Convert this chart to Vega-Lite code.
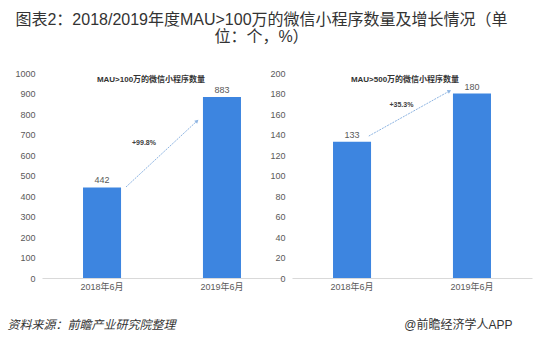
{
  "$schema": "https://vega.github.io/schema/vega-lite/v6.json",
  "background": "white",
  "padding": {"left": 7, "right": 7, "top": 12, "bottom": 5},
  "title": {
    "text": ["图表2：2018/2019年度MAU>100万的微信小程序数量及增长情况（单", "位：个，%）"],
    "fontSize": 16,
    "fontWeight": "normal",
    "color": "#333333",
    "lineHeight": 17,
    "anchor": "middle",
    "dx": -8,
    "offset": 24
  },
  "datasets": {
    "bars1": [{"period": "2018年6月", "value": 442}, {"period": "2019年6月", "value": 883}],
    "arrow1": [{"x": 0.35, "y": 444, "x2": 0.646, "y2": 766, "label": "+99.8%", "lx": 0.425, "ly": 659}],
    "bars2": [{"period": "2018年6月", "value": 133}, {"period": "2019年6月", "value": 180}],
    "arrow2": [{"x": 0.32, "y": 138.5, "x2": 0.656, "y2": 182.4, "label": "+35.3%", "lx": 0.456, "ly": 168.8}]
  },
  "config": {
    "font": "Liberation Sans, Noto Sans CJK SC, sans-serif",
    "view": {"stroke": null},
    "axis": {"labelFontSize": 9, "labelColor": "#595959", "domain": false, "ticks": false, "grid": false, "labelPadding": 7, "labelOverlap": false, "labelFlush": false},
    "axisY": {"tickCount": 10, "format": "d", "labelOverlap": false},
    "axisX": {"domain": true, "domainColor": "#d9d9d9", "labelPadding": 4, "labelAngle": 0}
  },
  "bounds": "flush",
  "spacing": 10,
  "hconcat": [
    {
      "width": 240,
      "height": 205,
      "title": {"text": "MAU>100万的微信小程序数量", "fontSize": 8, "fontWeight": "bold", "color": "#333333", "offset": -19, "baseline": "middle", "dx": -11},
      "layer": [
        {
          "data": {"name": "bars1"},
          "encoding": {
            "x": {"field": "period", "type": "nominal", "sort": null,
              "scale": {"paddingInner": 0.683, "paddingOuter": 0.342},
              "axis": {"title": "资料来源：前瞻产业研究院整理", "titleFontSize": 12, "titleFontStyle": "italic", "titleFontWeight": "normal", "titleColor": "#333333", "titleAnchor": "start", "titleAlign": "left", "titleX": -35, "titleY": 46, "titleBaseline": "middle"}},
            "y": {"field": "value", "type": "quantitative", "scale": {"domain": [0, 1000]},
              "axis": {"title": null, "format": "d", "tickCount": 10, "labelOverlap": false}}
          },
          "layer": [
            {"mark": {"type": "bar", "color": "#3d85e0"}},
            {"mark": {"type": "text", "baseline": "bottom", "dy": -2, "fontSize": 9, "color": "#595959"}, "encoding": {"text": {"field": "value"}}}
          ]
        },
        {
          "data": {"name": "arrow1"},
          "layer": [
            {"mark": {"type": "rule", "color": "#8db4e2", "strokeWidth": 1, "strokeDash": [2, 1]},
              "encoding": {"x": {"field": "x", "type": "quantitative", "scale": {"domain": [0, 1]}, "axis": null}, "x2": {"field": "x2"}, "y": {"field": "y", "type": "quantitative", "axis": {"title": null, "format": "d", "tickCount": 10, "labelOverlap": false}}, "y2": {"field": "y2"}}},
            {"mark": {"type": "point", "shape": "triangle-up", "filled": true, "angle": 47, "size": 18, "color": "#8db4e2", "opacity": 1},
              "encoding": {"x": {"field": "x2", "type": "quantitative", "scale": {"domain": [0, 1]}, "axis": null}, "y": {"field": "y2", "type": "quantitative", "axis": {"title": null, "format": "d", "tickCount": 10, "labelOverlap": false}}}},
            {"mark": {"type": "text", "fontSize": 7, "fontWeight": "bold", "color": "#404040"},
              "encoding": {"x": {"field": "lx", "type": "quantitative", "scale": {"domain": [0, 1]}, "axis": null}, "y": {"field": "ly", "type": "quantitative", "axis": {"title": null, "format": "d", "tickCount": 10, "labelOverlap": false}}, "text": {"field": "label"}}}
          ]
        }
      ],
      "resolve": {"scale": {"x": "independent"}}
    },
    {
      "width": 240,
      "height": 205,
      "title": {"text": "MAU>500万的微信小程序数量", "fontSize": 8, "fontWeight": "bold", "color": "#333333", "offset": -19, "baseline": "middle", "dx": -7},
      "layer": [
        {
          "data": {"name": "bars2"},
          "encoding": {
            "x": {"field": "period", "type": "nominal", "sort": null,
              "scale": {"paddingInner": 0.683, "paddingOuter": 0.342},
              "axis": {"title": "@前瞻经济学人APP", "titleFontSize": 12, "titleFontWeight": "normal", "titleColor": "#333333", "titleAnchor": "start", "titleAlign": "right", "titleX": 220, "titleY": 46, "titleBaseline": "middle"}},
            "y": {"field": "value", "type": "quantitative", "scale": {"domain": [0, 200]},
              "axis": {"title": null, "format": "d", "tickCount": 10, "labelOverlap": false}}
          },
          "layer": [
            {"mark": {"type": "bar", "color": "#3d85e0"}},
            {"mark": {"type": "text", "baseline": "bottom", "dy": -2, "fontSize": 9, "color": "#595959"}, "encoding": {"text": {"field": "value"}}}
          ]
        },
        {
          "data": {"name": "arrow2"},
          "layer": [
            {"mark": {"type": "rule", "color": "#8db4e2", "strokeWidth": 1, "strokeDash": [2, 1]},
              "encoding": {"x": {"field": "x", "type": "quantitative", "scale": {"domain": [0, 1]}, "axis": null}, "x2": {"field": "x2"}, "y": {"field": "y", "type": "quantitative", "axis": {"title": null, "format": "d", "tickCount": 10, "labelOverlap": false}}, "y2": {"field": "y2"}}},
            {"mark": {"type": "point", "shape": "triangle-up", "filled": true, "angle": 61, "size": 18, "color": "#8db4e2", "opacity": 1},
              "encoding": {"x": {"field": "x2", "type": "quantitative", "scale": {"domain": [0, 1]}, "axis": null}, "y": {"field": "y2", "type": "quantitative", "axis": {"title": null, "format": "d", "tickCount": 10, "labelOverlap": false}}}},
            {"mark": {"type": "text", "fontSize": 7, "fontWeight": "bold", "color": "#404040"},
              "encoding": {"x": {"field": "lx", "type": "quantitative", "scale": {"domain": [0, 1]}, "axis": null}, "y": {"field": "ly", "type": "quantitative", "axis": {"title": null, "format": "d", "tickCount": 10, "labelOverlap": false}}, "text": {"field": "label"}}}
          ]
        }
      ],
      "resolve": {"scale": {"x": "independent"}}
    }
  ]
}
